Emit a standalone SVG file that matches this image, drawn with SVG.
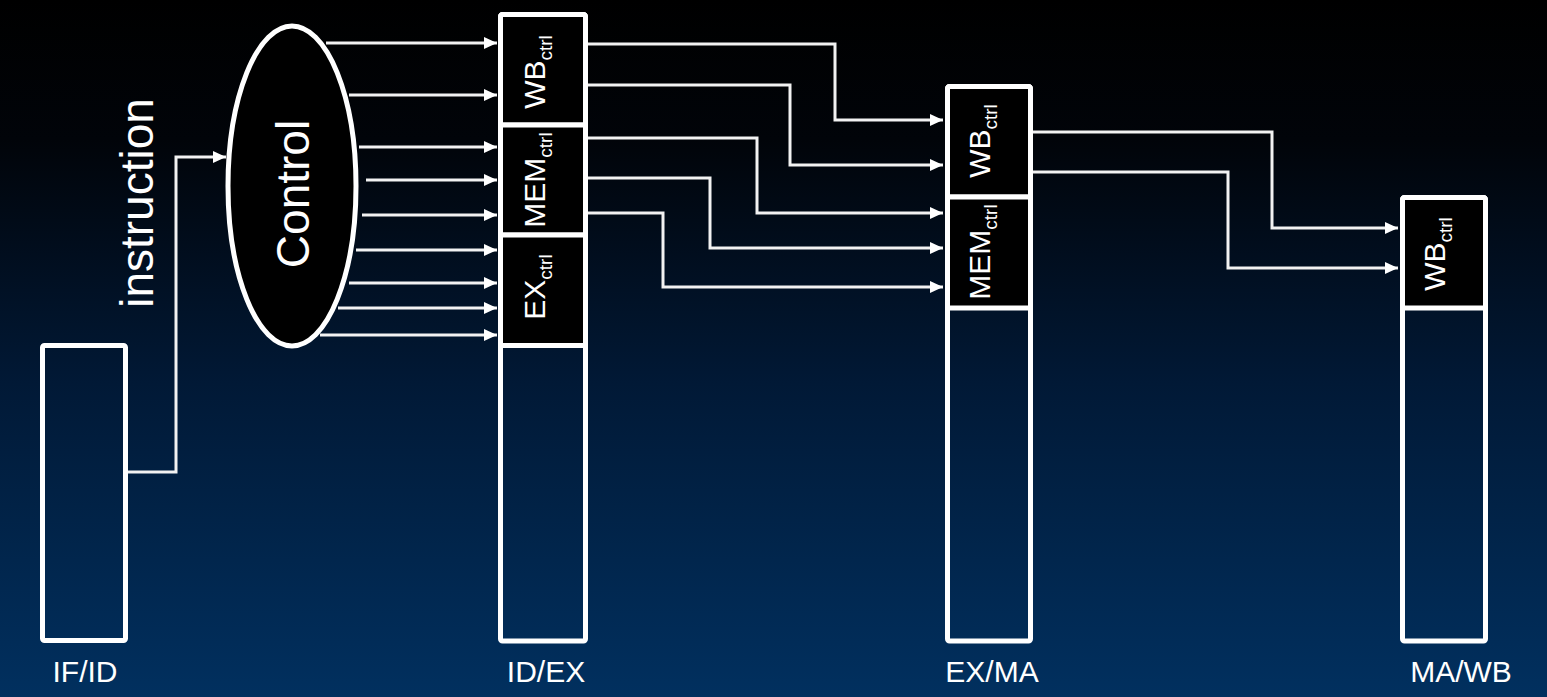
<svg xmlns="http://www.w3.org/2000/svg" width="1547" height="697" viewBox="0 0 1547 697">
<defs>
<linearGradient id="bg" x1="0" y1="0" x2="0" y2="1">
<stop offset="0" stop-color="#000000"/>
<stop offset="0.2" stop-color="#010409"/>
<stop offset="0.55" stop-color="#011936"/>
<stop offset="1" stop-color="#01305f"/>
</linearGradient>
<marker id="arr" markerUnits="userSpaceOnUse" markerWidth="14" markerHeight="14" viewBox="0 0 14 14" refX="13" refY="7" orient="auto">
<path d="M0,1 L13,7 L0,13 Z" fill="#ffffff"/>
</marker>
<style>
.reg{fill:none;stroke:#ffffff;stroke-width:5}
.ctl{fill:#000000;stroke:#ffffff;stroke-width:5}
.w{fill:none;stroke:#f2f2f2;stroke-width:3;marker-end:url(#arr)}
.wn{fill:none;stroke:#f2f2f2;stroke-width:3}
.t{fill:#ffffff;font-family:"Liberation Sans",Arial,sans-serif}
.lab{font-size:30px}
.big{font-size:46px}
.sub{font-size:19px}
.cl{font-size:30px;text-anchor:middle}
</style>
</defs>
<rect x="0" y="0" width="1547" height="697" fill="url(#bg)"/>

<g id="connectors">
<polyline class="w" points="128,472 176,472 176,157 226,157"/>
<line class="w" x1="326" y1="43" x2="497" y2="43"/>
<line class="w" x1="349" y1="95" x2="497" y2="95"/>
<line class="w" x1="359" y1="147" x2="497" y2="147"/>
<line class="w" x1="366" y1="180" x2="497" y2="180"/>
<line class="w" x1="362" y1="215" x2="497" y2="215"/>
<line class="w" x1="356" y1="250" x2="497" y2="250"/>
<line class="w" x1="349" y1="283" x2="497" y2="283"/>
<line class="w" x1="338" y1="308" x2="497" y2="308"/>
<line class="w" x1="320" y1="335" x2="497" y2="335"/>
<polyline class="w" points="588,44 835,44 835,120 943,120"/>
<polyline class="w" points="588,85 790,85 790,165 943,165"/>
<polyline class="w" points="588,138 757,138 757,213 943,213"/>
<polyline class="w" points="588,178 710,178 710,248 943,248"/>
<polyline class="w" points="588,213 663,213 663,287 943,287"/>
<polyline class="w" points="1033,132 1272,132 1272,228 1398,228"/>
<polyline class="w" points="1033,172 1228,172 1228,268 1398,268"/>
</g>

<g id="instruction-label">
<text class="t big" text-anchor="middle" transform="translate(153,203) rotate(-90)">instruction</text>
</g>

<g id="control">
<ellipse cx="292" cy="186" rx="64" ry="160" fill="#000000" stroke="#ffffff" stroke-width="5"/>
<text class="t big" text-anchor="middle" transform="translate(309,194) rotate(-90)">Control</text>
</g>

<g id="if-id">
<rect class="reg" x="42.5" y="345.5" width="83" height="295" rx="2"/>
<text class="t lab" x="85" y="682" text-anchor="middle" font-size="31">IF/ID</text>
</g>

<g id="id-ex">
<rect class="reg" x="500.5" y="14.5" width="85" height="626.5" rx="2"/>
<rect class="ctl" x="500.5" y="14.5" width="85" height="110.5" rx="2"/>
<rect class="ctl" x="500.5" y="125" width="85" height="110"/>
<rect class="ctl" x="500.5" y="235" width="85" height="110.5"/>
<text class="t cl" transform="translate(545,72) rotate(-90)">WB<tspan class="sub" dy="7">ctrl</tspan></text>
<text class="t cl" transform="translate(545,180) rotate(-90)">MEM<tspan class="sub" dy="7">ctrl</tspan></text>
<text class="t cl" transform="translate(545,287) rotate(-90)">EX<tspan class="sub" dy="7">ctrl</tspan></text>
<text class="t lab" x="546" y="682" text-anchor="middle" font-size="31">ID/EX</text>
</g>

<g id="ex-ma">
<rect class="reg" x="947.5" y="86.5" width="83" height="554.5" rx="2"/>
<rect class="ctl" x="947.5" y="86.5" width="83" height="110.5" rx="2"/>
<rect class="ctl" x="947.5" y="197" width="83" height="111"/>
<text class="t cl" transform="translate(990,141) rotate(-90)">WB<tspan class="sub" dy="7">ctrl</tspan></text>
<text class="t cl" transform="translate(990,252) rotate(-90)">MEM<tspan class="sub" dy="7">ctrl</tspan></text>
<text class="t lab" x="992" y="682" text-anchor="middle" font-size="31">EX/MA</text>
</g>

<g id="ma-wb">
<rect class="reg" x="1402.5" y="197.5" width="83" height="443.5" rx="2"/>
<rect class="ctl" x="1402.5" y="197.5" width="83" height="110.5" rx="2"/>
<text class="t cl" transform="translate(1445,254) rotate(-90)">WB<tspan class="sub" dy="7">ctrl</tspan></text>
<text class="t lab" x="1461" y="682" text-anchor="middle" font-size="31">MA/WB</text>
</g>
</svg>
